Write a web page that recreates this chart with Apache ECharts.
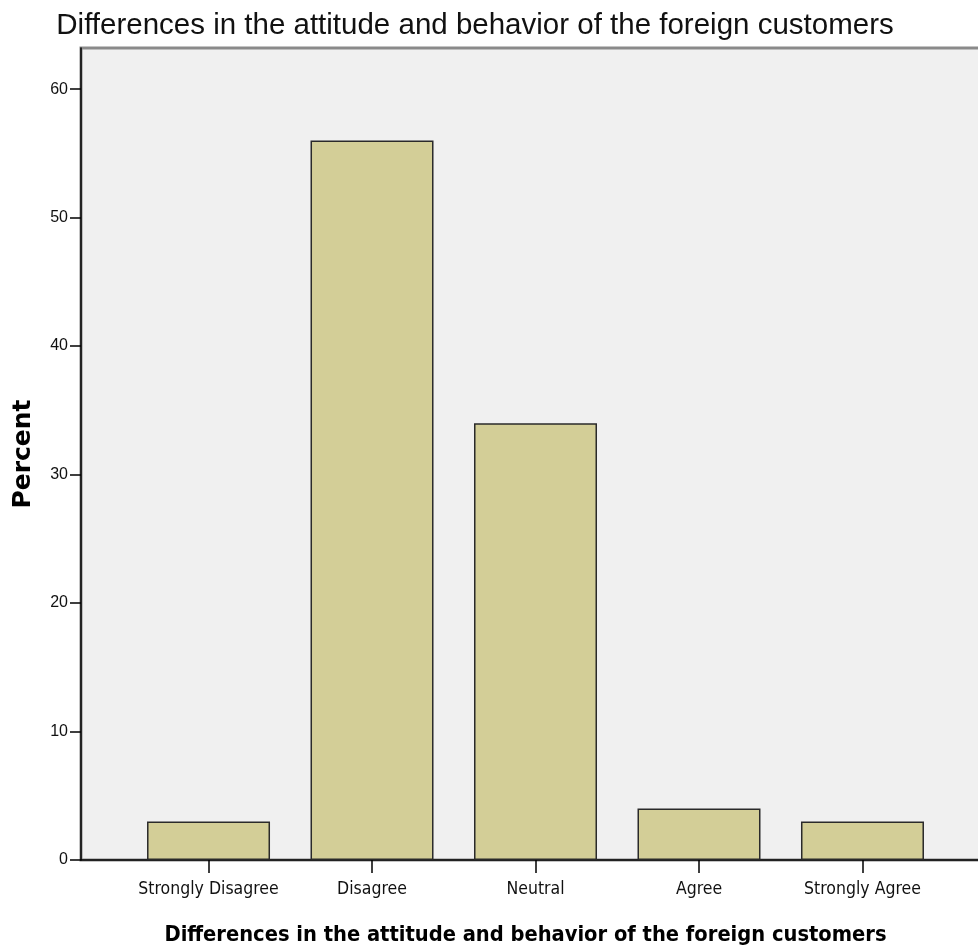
<!DOCTYPE html>
<html><head><meta charset="utf-8">
<script src="https://cdn.jsdelivr.net/npm/echarts@6/dist/echarts.min.js"></script>
<style>html,body{margin:0;padding:0;background:#fff}#c{width:978px;height:950px}</style>
</head><body><div id="c"></div>
<script>
const categories = ["Strongly Disagree", "Disagree", "Neutral", "Agree", "Strongly Agree"];
const percents = [3, 56, 34, 4, 3];
const yTicks = [0, 10, 20, 30, 40, 50, 60];
const titleText = "Differences in the attitude and behavior of the foreign customers";

const positions = categories.map((c, i) => i + 1);
const cond = "'DejaVu Sans Condensed', 'DejaVu Sans', sans-serif";
const chart = echarts.init(document.getElementById('c'), null, {renderer: 'canvas'});
chart.setOption({
  animation: false,
  backgroundColor: '#ffffff',
  title: {
    text: titleText, left: 470, top: 6, textAlign: 'center',
    textStyle: {fontFamily: "'Liberation Sans', Arial, sans-serif", fontSize: 29.5, fontWeight: 'normal', color: '#111'}
  },
  grid: {left: 81, top: 48, right: -4, bottom: 90, containLabel: false, outerBoundsMode: 'none', show: true, backgroundColor: '#f0f0f0', borderColor: '#8a8a8a', borderWidth: 3},
  xAxis: {
    type: 'value', min: 0.22, max: 5.731,
    name: titleText, nameLocation: 'middle', nameGap: 64,
    nameTextStyle: {fontFamily: cond, fontSize: 21.7, fontWeight: 'bold', color: '#000', padding: [0, 12, 0, 0]},
    axisLine: {show: true, lineStyle: {color: '#000', width: 1.5}},
    axisTick: {show: true, customValues: positions, length: 13, lineStyle: {color: '#000', width: 1.5}},
    axisLabel: {customValues: positions, formatter: v => categories[Math.round(v) - 1] || '', fontFamily: cond, fontSize: 17.5, color: '#111', margin: 20},
    splitLine: {show: false}
  },
  yAxis: {
    type: 'value', min: 0, max: 63.2, interval: 10,
    name: 'Percent', nameLocation: 'middle', nameGap: 45, nameRotate: 90,
    nameTextStyle: {fontFamily: "'DejaVu Sans', sans-serif", fontSize: 25, fontWeight: 'bold', color: '#000'},
    axisLine: {show: true, lineStyle: {color: '#000', width: 1.5}},
    axisTick: {show: true, customValues: yTicks, length: 11, lineStyle: {color: '#000', width: 1.5}},
    axisLabel: {customValues: yTicks, fontFamily: "'Liberation Sans', Arial, sans-serif", fontSize: 16, color: '#111', margin: 13, padding: [5, 0, 0, 0]},
    splitLine: {show: false}
  },
  series: [{
    type: 'bar',
    data: positions.map((p, i) => [p, percents[i]]),
    barWidth: 123,
    itemStyle: {color: '#d3ce97', borderColor: '#2a2a2a', borderWidth: 1.5}
  }]
});
</script></body></html>
